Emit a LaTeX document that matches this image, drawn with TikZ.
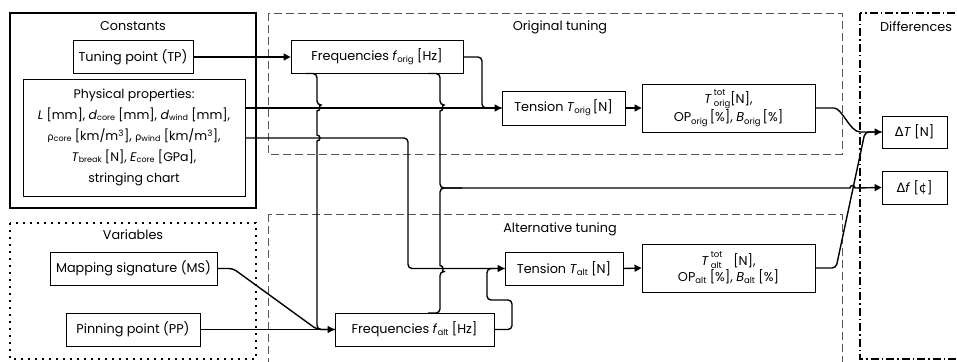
\documentclass[tikz,border=0pt]{standalone}
\usepackage{fontspec}
\setmainfont{Poppins}
\newfontfamily\grk{DejaVu Sans}
\usetikzlibrary{arrows.meta}
\newcommand\sbs[1]{\raisebox{-0.3ex}{\fontsize{8.5}{9}\selectfont #1}}
\newcommand\smsbs[1]{\raisebox{-0.15ex}{\fontsize{8}{9}\selectfont #1}}
\newcommand\supsub[2]{\makebox[0pt][l]{\raisebox{1.15ex}{\fontsize{8.5}{9}\selectfont #1}}\raisebox{-0.45ex}{\fontsize{8.5}{9}\selectfont #2}}
\definecolor{dashgray}{HTML}{555555}
\begin{document}
\begin{tikzpicture}[x=1pt,y=-1pt,
  txt/.style={font=\fontsize{12.8}{15}\selectfont},
  box/.style={txt, draw, line width=0.9pt, inner sep=2pt, align=center},
  conn/.style={line width=1.4pt, rounded corners=4pt},
  arr/.style={conn, -{Triangle[length=7pt,width=7pt]}},
  grp/.style={draw=dashgray, line width=0.9pt, dash pattern=on 8pt off 4pt}]
\useasboundingbox (0,0) rectangle (957,361);
\clip (0,0) rectangle (957,361);

% containers
\draw[line width=2.6pt] (10,13) rectangle (256,208);
\node[txt] (lconst) at (133,26) {Constants};
\draw[line width=2.4pt, dash pattern=on 2.4pt off 4.6pt] (10,223) rectangle (256,359);
\node[txt] (lvar) at (133,235) {Variables};
\draw[grp] (268,13) rectangle (842,154);
\node[txt] (lorig) at (560,27) {Original tuning};
\draw[grp] (268,214) rectangle (842,380);
\node[txt] (lalt) at (560,229) {Alternative tuning};
\draw[line width=1.1pt, dash pattern=on 8pt off 3pt on 1.5pt off 3pt] (860,13) rectangle (980,359);
\node[txt] (ldiff) at (916,27) {Differences};

% nodes
\node[box, minimum width=120pt, minimum height=33pt] (tp) at (133,57) {Tuning point (TP)};
\node[box, minimum width=222pt, minimum height=117pt, font=\fontsize{12.5}{21}\selectfont] (phys) at (134,137.5)
  {Physical properties:\\
   \textit{L} [mm], \textit{d}\smsbs{core} [mm], \textit{d}\smsbs{wind} [mm],\\
   {\grk\fontsize{10}{10}\selectfont ρ}\smsbs{core} [km/m\textsuperscript{3}], {\grk\fontsize{10}{10}\selectfont ρ}\smsbs{wind} [km/m\textsuperscript{3}],\\
   \textit{T}\smsbs{break} [N], \textit{E}\smsbs{core} [GPa],\\
   stringing chart};
\node[box, minimum width=167pt, minimum height=33pt] (ms) at (133.5,268.5) {Mapping signature (MS)};
\node[box, minimum width=134pt, minimum height=33pt] (pp) at (133,329.5) {Pinning point (PP)};
\node[box, minimum width=172pt, minimum height=33pt] (forig) at (377,57) {Frequencies \textit{f}\sbs{orig} [Hz]};
\node[box, minimum width=123pt, minimum height=34pt] (torig) at (563.5,108) {Tension \textit{T}\sbs{orig}\,[N]};
\node[box, minimum width=173pt, minimum height=48pt] (totorig) at (728.5,108)
  {\textit{T}\,\supsub{tot}{orig}[N],\\ OP\sbs{orig}\,[\%], \textit{B}\sbs{orig}\,[\%]};
\node[box, minimum width=118pt, minimum height=33pt] (talt) at (564,268.5) {Tension \textit{T}\sbs{alt} [N]};
\node[box, minimum width=173pt, minimum height=48pt] (totalt) at (728.5,268)
  {\textit{T}\,\supsub{tot}{alt}\hspace{0.9em}[N],\\ OP\sbs{alt} [\%], \textit{B}\sbs{alt} [\%]};
\node[box, minimum width=159pt, minimum height=33pt] (falt) at (414.5,329.5) {Frequencies \textit{f}\sbs{alt} [Hz]};
\node[box, minimum width=65pt, minimum height=32pt] (dT) at (914.5,132) {{\grk Δ}\textit{T} [N]};
\node[box, minimum width=65pt, minimum height=33pt] (df) at (914.5,187.5) {{\grk Δ}\textit{f} [{\grk ¢}]};

% connectors
\draw[arr] (phys.east |- torig.west) -- (torig.west);
\draw[conn] (forig.east) -- (482,57) -- (482,108) -- (torig.west);
\draw[arr] (phys.east |- 0,138) -- (408,138) -- (408,268.5) -- (talt.west);
\draw[conn] (falt.east) -- (512,329.5) -- (512,300) -- (487,300) -- (487,268.5) -- (talt.west);
\draw[arr] (tp.east) -- (forig.west);
\draw[arr] (torig.east) -- (totorig.west);
\draw[arr] (talt.east) -- (totalt.west);

% vertical from f_orig to f_alt
\draw[conn] (306,73.5) -- (317,73.5) -- (317,105) [sharp corners] arc[start angle=90,end angle=-90,radius=3pt]
  -- (317,135) arc[start angle=90,end angle=-90,radius=3pt] -- (317,143) [rounded corners=4pt] -- (317,329.5) -- (falt.west);
\draw[conn] (ms.east) -- (233,268.5) -- (317,329.5) -- (falt.west);
\draw[arr] (pp.east) -- (falt.west);

% vertical from f_orig to delta f
\draw[arr] (428,73.5) -- (440,73.5) -- (440,105) [sharp corners] arc[start angle=90,end angle=-90,radius=3pt]
  -- (440,113) [rounded corners=4pt] -- (440,188) -- (845,188) [sharp corners] -- (850,188)
  arc[start angle=180,end angle=0,radius=2.5pt] -- (df.west);
\draw[conn] (428,313) -- (440,313) -- (440,271.5) [sharp corners] arc[start angle=-90,end angle=90,radius=3pt]
  -- (440,262) [rounded corners=4pt] -- (440,188) -- (462,188);

% to delta T
\draw[arr] (totorig.east) -- (830,108) .. controls (842,108) and (850,132) .. (864,132) -- (dT.west);
\draw[conn] (totalt.east) -- (836,268) -- (865,132) -- (dT.west);
\end{tikzpicture}
\end{document}
